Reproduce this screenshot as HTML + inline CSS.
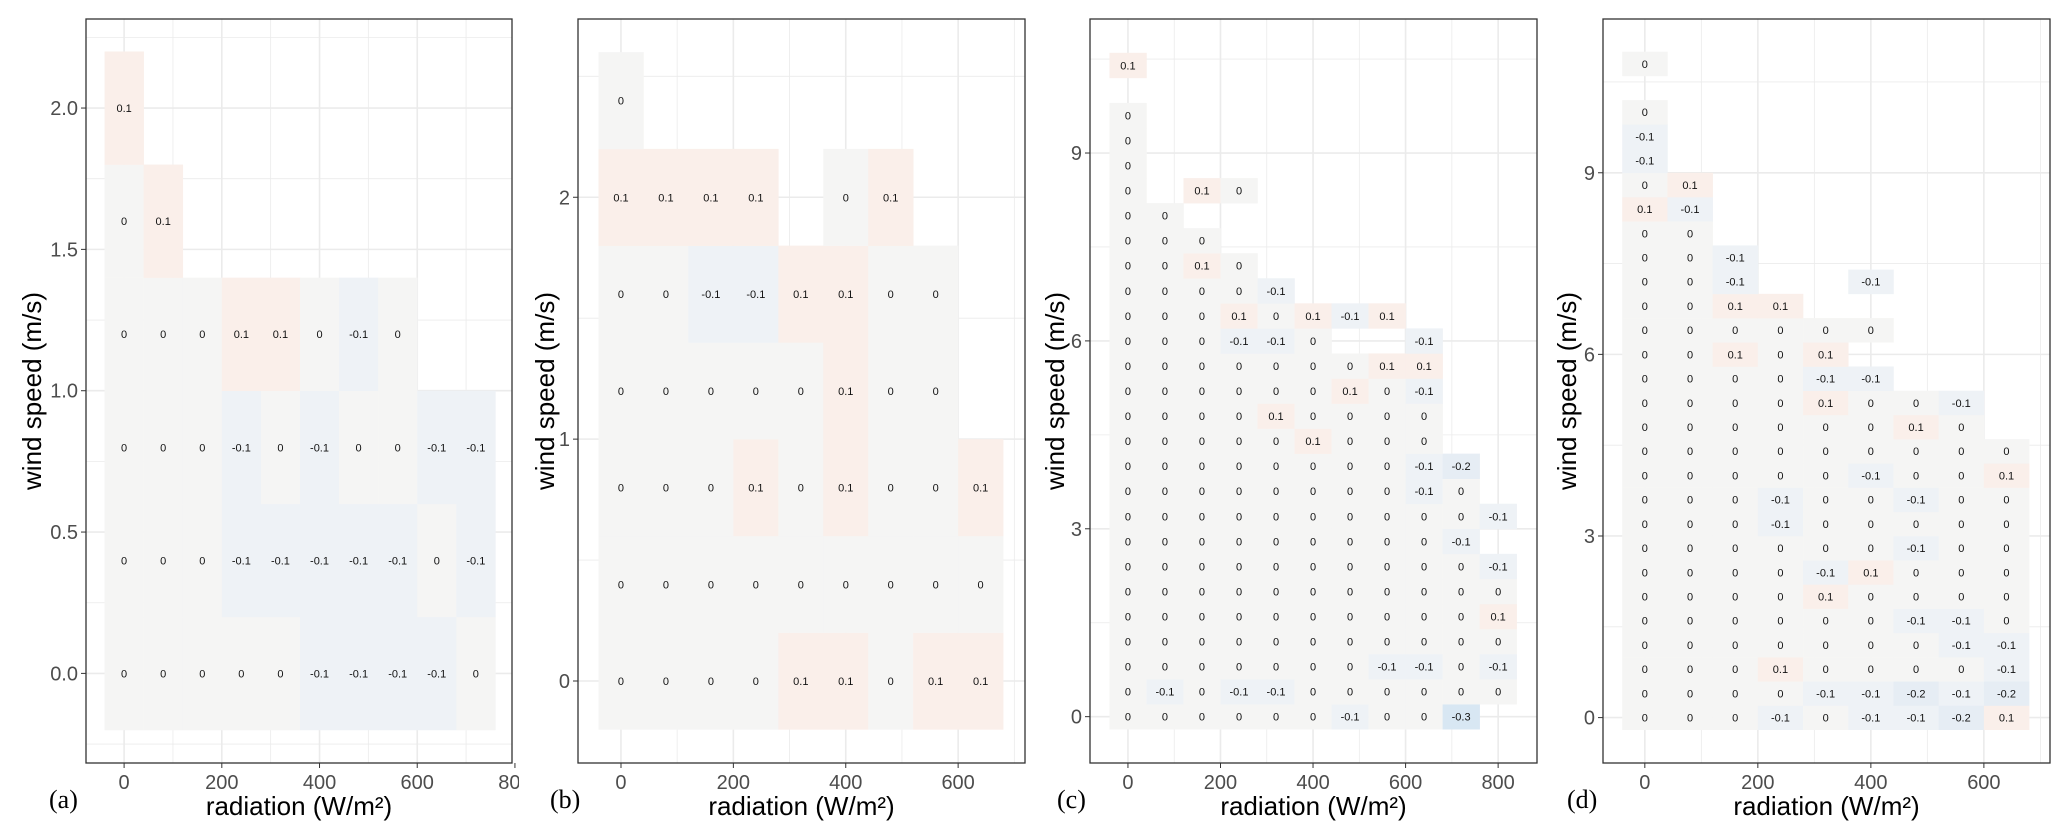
<!DOCTYPE html>
<html><head><meta charset="utf-8"><style>
html,body{margin:0;padding:0;background:#fff;}
svg{display:block;font-family:"Liberation Sans",sans-serif;}
</style></head><body>
<svg id="fig" width="2067" height="840" viewBox="0 0 2067 840" xmlns="http://www.w3.org/2000/svg"></svg>
<script>
// ---------- DATA ----------
const colStart = 0, colStep = 80;
// Panel (a)
const rowsYA = [0, 0.4, 0.8, 1.2, 1.6, 2.0];
const valsA = [
 [0,0,0,0,0,-0.1,-0.1,-0.1,-0.1,0],
 [0,0,0,-0.1,-0.1,-0.1,-0.1,-0.1,0,-0.1],
 [0,0,0,-0.1,0,-0.1,0,0,-0.1,-0.1],
 [0,0,0,0.1,0.1,0,-0.1,0],
 [0,0.1],
 [0.1]
];
const xTicksA = [0,200,400,600,800];
const yTicksA = [0,0.5,1,1.5,2];
const yTickLabelsA = ["0.0","0.5","1.0","1.5","2.0"];
// Panel (b)
const rowsYB = [0, 0.4, 0.8, 1.2, 1.6, 2.0, 2.4];
const valsB = [
 [0,0,0,0,0.1,0.1,0,0.1,0.1],
 [0,0,0,0,0,0,0,0,0],
 [0,0,0,0.1,0,0.1,0,0,0.1],
 [0,0,0,0,0,0.1,0,0],
 [0,0,-0.1,-0.1,0.1,0.1,0,0],
 [0.1,0.1,0.1,0.1,null,0,0.1],
 [0]
];
const xTicksB = [0,200,400,600];
const yTicksB = [0,1,2];
const yTickLabelsB = ["0","1","2"];
// Panel (c)
const rowsYC = [0,0.4,0.8,1.2,1.6,2.0,2.4,2.8,3.2,3.6,4.0,4.4,4.8,5.2,5.6,6.0,6.4,6.8,7.2,7.6,8.0,8.4,8.8,9.2,9.6,10.4];
const valsC = [
 [0,0,0,0,0,0,-0.1,0,0,-0.3],
 [0,-0.1,0,-0.1,-0.1,0,0,0,0,0,0],
 [0,0,0,0,0,0,0,-0.1,-0.1,0,-0.1],
 [0,0,0,0,0,0,0,0,0,0,0],
 [0,0,0,0,0,0,0,0,0,0,0.1],
 [0,0,0,0,0,0,0,0,0,0,0],
 [0,0,0,0,0,0,0,0,0,0,-0.1],
 [0,0,0,0,0,0,0,0,0,-0.1],
 [0,0,0,0,0,0,0,0,0,0,-0.1],
 [0,0,0,0,0,0,0,0,-0.1,0],
 [0,0,0,0,0,0,0,0,-0.1,-0.2],
 [0,0,0,0,0,0.1,0,0,0],
 [0,0,0,0,0.1,0,0,0,0],
 [0,0,0,0,0,0,0.1,0,-0.1],
 [0,0,0,0,0,0,0,0.1,0.1],
 [0,0,0,-0.1,-0.1,0,null,null,-0.1],
 [0,0,0,0.1,0,0.1,-0.1,0.1],
 [0,0,0,0,-0.1],
 [0,0,0.1,0],
 [0,0,0],
 [0,0],
 [0,null,0.1,0],
 [0],
 [0],
 [0],
 [0.1]
];
const xTicksC = [0,200,400,600,800];
const yTicksC = [0,3,6,9];
const yTickLabelsC = ["0","3","6","9"];
// Panel (d)
const rowsYD = [0,0.4,0.8,1.2,1.6,2.0,2.4,2.8,3.2,3.6,4.0,4.4,4.8,5.2,5.6,6.0,6.4,6.8,7.2,7.6,8.0,8.4,8.8,9.2,9.6,10.0,10.8];
const valsD = [
 [0,0,0,-0.1,0,-0.1,-0.1,-0.2,0.1],
 [0,0,0,0,-0.1,-0.1,-0.2,-0.1,-0.2],
 [0,0,0,0.1,0,0,0,0,-0.1],
 [0,0,0,0,0,0,0,-0.1,-0.1],
 [0,0,0,0,0,0,-0.1,-0.1,0],
 [0,0,0,0,0.1,0,0,0,0],
 [0,0,0,0,-0.1,0.1,0,0,0],
 [0,0,0,0,0,0,-0.1,0,0],
 [0,0,0,-0.1,0,0,0,0,0],
 [0,0,0,-0.1,0,0,-0.1,0,0],
 [0,0,0,0,0,-0.1,0,0,0.1],
 [0,0,0,0,0,0,0,0,0],
 [0,0,0,0,0,0,0.1,0],
 [0,0,0,0,0.1,0,0,-0.1],
 [0,0,0,0,-0.1,-0.1],
 [0,0,0.1,0,0.1],
 [0,0,0,0,0,0],
 [0,0,0.1,0.1],
 [0,0,-0.1,null,null,-0.1],
 [0,0,-0.1],
 [0,0],
 [0.1,-0.1],
 [0,0.1],
 [-0.1],
 [-0.1],
 [0],
 [0]
];
const xTicksD = [0,200,400,600];
const yTicksD = [0,3,6,9];
const yTickLabelsD = ["0","3","6","9"];

// ---------- RENDER ----------
const NS = "http://www.w3.org/2000/svg";
const svg = document.getElementById('fig');
function mk(tag, attrs, parent){
  const e = document.createElementNS(NS, tag);
  for (const k in attrs) e.setAttribute(k, attrs[k]);
  (parent||svg).appendChild(e);
  return e;
}
function fill(v){
  if (v >= 0.05) return '#faefea';
  if (v <= -0.25) return '#d8e7f3';
  if (v <= -0.15) return '#e6edf4';
  if (v <= -0.05) return '#eef2f6';
  return '#f5f5f4';
}
function fmt(v){ return v === 0 ? '0' : String(v); }

function panel(cfg){
  const g = mk('g', {});
  
  
  const sx = v => cfg.left + (v - cfg.xmin) / (cfg.xmax - cfg.xmin) * (cfg.right - cfg.left);
  const sy = v => cfg.bottom - (v - cfg.ymin) / (cfg.ymax - cfg.ymin) * (cfg.bottom - cfg.top);
  const gg = mk('g', {}, g);
  
  
  const xt = cfg.xTicks, yt = cfg.yTicks;
  const xs = xt[1]-xt[0], ys = yt[1]-yt[0];
  for (let v = xt[0] - xs; v <= cfg.xmax + xs; v += xs/2){
    if (v < cfg.xmin || v > cfg.xmax) continue;
    const major = Math.abs((v - xt[0]) / xs - Math.round((v - xt[0]) / xs)) < 1e-6;
    mk('line', {x1:sx(v), x2:sx(v), y1:cfg.top, y2:cfg.bottom, stroke:'#ebebeb', 'stroke-width': major?1.6:0.8}, gg);
  }
  for (let v = yt[0] - ys; v <= cfg.ymax + ys; v += ys/2){
    if (v < cfg.ymin || v > cfg.ymax) continue;
    const major = Math.abs((v - yt[0]) / ys - Math.round((v - yt[0]) / ys)) < 1e-6;
    mk('line', {y1:sy(v), y2:sy(v), x1:cfg.left, x2:cfg.right, stroke:'#ebebeb', 'stroke-width': major?1.6:0.8}, gg);
  }
  const tg = mk('g', {}, g);
  
  
  cfg.vals.forEach((row, ri) => {
    const yv = cfg.rows[ri];
    row.forEach((v, ci) => {
      if (v === null) return;
      const xv = colStart + ci * colStep;
      const x0 = sx(xv - colStep/2), x1 = sx(xv + colStep/2);
      const y0 = sy(yv + cfg.rowH/2), y1 = sy(yv - cfg.rowH/2);
      const r = mk('rect', {x:x0, y:y0, width:x1-x0+0.3, height:y1-y0+0.3, fill:fill(v)}, tg);
      
      
      const t = mk('text', {x:sx(xv), y:sy(yv)+4, 'text-anchor':'middle', 'font-size':11, fill:'#111'}, tg);
      
      
      t.textContent = fmt(v);
    });
  });
  const b = mk('rect', {x:cfg.left, y:cfg.top, width:cfg.right-cfg.left, height:cfg.bottom-cfg.top, fill:'none', stroke:'#333', 'stroke-width':1.3}, g);
  
  
  xt.forEach(v => {
    mk('line', {x1:sx(v), x2:sx(v), y1:cfg.bottom, y2:cfg.bottom+5, stroke:'#333', 'stroke-width':1}, g);
    const t = mk('text', {x:sx(v), y:cfg.bottom+26, 'text-anchor':'middle', 'font-size':20, fill:'#4d4d4d'}, g);
    
    
    t.textContent = String(v);
  });
  yt.forEach((v, i) => {
    mk('line', {x1:cfg.left-5, x2:cfg.left, y1:sy(v), y2:sy(v), stroke:'#333', 'stroke-width':1}, g);
    const t = mk('text', {x:cfg.left-8, y:sy(v)+7, 'text-anchor':'end', 'font-size':20, fill:'#4d4d4d'}, g);
    
    
    t.textContent = cfg.yLabels[i];
  });
  const xtl = mk('text', {x:(cfg.left+cfg.right)/2, y:815, 'text-anchor':'middle', 'font-size':26, fill:'#000'}, g);
  
  
  xtl.textContent = 'radiation (W/m²)';
  const ytl = mk('text', {x:0, y:0, 'text-anchor':'middle', 'font-size':26, fill:'#000', transform:`translate(${cfg.ytx},391) rotate(-90)`}, g);
  
  
  ytl.textContent = 'wind speed (m/s)';
  const pl = mk('text', {x:cfg.plx, y:808, 'font-size':26, 'font-family':'"Liberation Serif",serif', fill:'#000'}, g);
  
  
  pl.textContent = '(' + cfg.id + ')';
}

panel({id:'a', left:86, right:512, top:19, bottom:763, xmin:-78, xmax:794, ymin:-0.317, ymax:2.315,
  rows:rowsYA, vals:valsA, rowH:0.4, xTicks:xTicksA, yTicks:yTicksA, yLabels:yTickLabelsA, ytx:41, plx:49});
const cover = mk('rect', {x:519, y:765, width:14, height:30, fill:'#fff'});


panel({id:'b', left:578, right:1025, top:19, bottom:763, xmin:-76.5, xmax:719, ymin:-0.339, ymax:2.737,
  rows:rowsYB, vals:valsB, rowH:0.4, xTicks:xTicksB, yTicks:yTicksB, yLabels:yTickLabelsB, ytx:554, plx:550});
panel({id:'c', left:1090, right:1537, top:19, bottom:763, xmin:-82, xmax:884, ymin:-0.74, ymax:11.14,
  rows:rowsYC, vals:valsC, rowH:0.4, xTicks:xTicksC, yTicks:yTicksC, yLabels:yTickLabelsC, ytx:1064, plx:1057});
panel({id:'d', left:1603, right:2050, top:19, bottom:763, xmin:-74, xmax:717, ymin:-0.75, ymax:11.54,
  rows:rowsYD, vals:valsD, rowH:0.4, xTicks:xTicksD, yTicks:yTicksD, yLabels:yTickLabelsD, ytx:1576, plx:1567});
</script>
</body></html>
